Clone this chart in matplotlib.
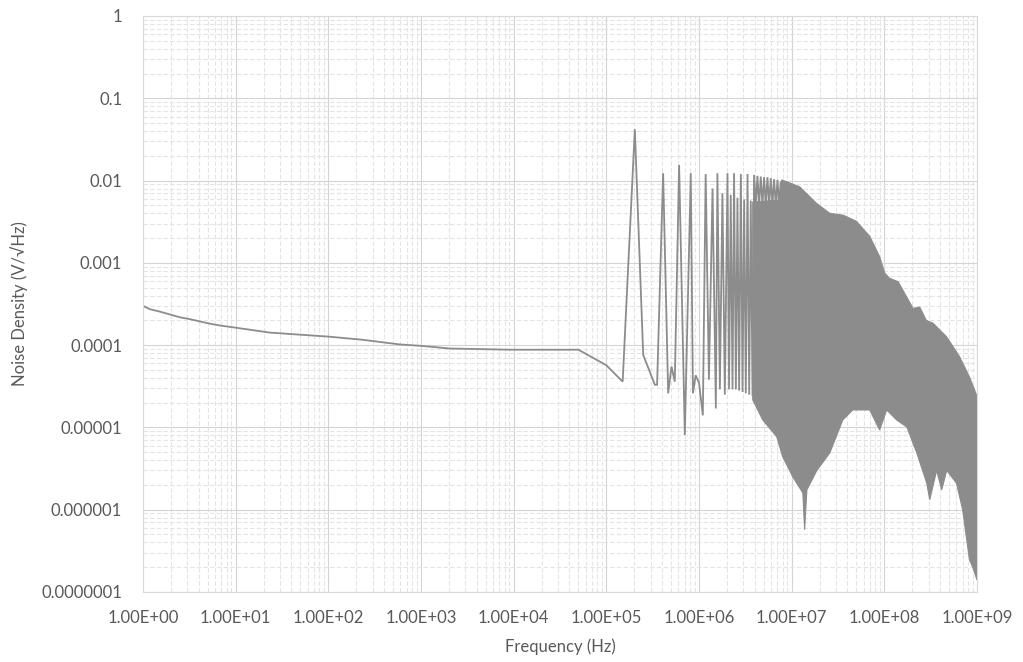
import numpy as np
import matplotlib
matplotlib.use('Agg')
import matplotlib.pyplot as plt

plt.rcParams['font.family'] = ['Lato', 'DejaVu Sans']

# low frequency part of the trace (Hz, V/rtHz)
f_low = [1, 1.19, 1.53, 2.5, 3.2, 5.3, 6.8, 10, 23.5, 100, 238, 590, 1000, 2050, 9100,
         5.0e4, 1.0e5, 1.5e5]
v_low = [3.0e-4, 2.73e-4, 2.55e-4, 2.18e-4, 2.07e-4, 1.82e-4, 1.73e-4, 1.63e-4, 1.42e-4,
         1.27e-4, 1.16e-4, 1.02e-4, 9.8e-5, 9.1e-5, 8.8e-5, 8.8e-5, 5.7e-5, 3.6e-5]

# resonance spikes (peak / trough pairs)
f_spk = [2.03e5, 2.5e5, 3.34e5, 3.53e5, 4.1e5, 4.65e5, 5.05e5, 5.48e5, 6.1e5, 7.03e5,
         8.15e5, 8.6e5, 9.2e5, 1.0e6, 1.1e6, 1.18e6, 1.28e6, 1.4e6, 1.52e6, 1.58e6,
         1.68e6, 1.79e6, 1.9e6, 2.03e6, 2.11e6, 2.2e6, 2.3e6, 2.39e6, 2.5e6, 2.6e6,
         2.71e6, 2.83e6, 2.95e6, 3.07e6, 3.2e6, 3.34e6, 3.48e6, 3.62e6, 3.78e6,
         3.93e6, 4.1e6, 4.27e6, 4.45e6, 4.64e6, 4.84e6, 5.04e6, 5.26e6, 5.48e6, 5.71e6,
         5.95e6, 6.2e6, 6.46e6, 6.74e6, 7.03e6, 7.32e6, 7.62e6, 7.7e6]
v_spk = [0.042, 7.6e-5, 3.3e-5, 3.3e-5, 0.0123, 2.6e-5, 5.5e-5, 3.6e-5, 0.0155, 8.1e-6,
         0.0123, 2.6e-5, 4.3e-5, 3.5e-5, 1.4e-5, 0.012, 3.8e-5, 0.008, 1.7e-5, 0.0123,
         2.9e-5, 0.007, 2.5e-5, 0.0123, 2.9e-5, 0.0067, 2.9e-5, 0.0123, 2.9e-5, 0.0062,
         2.8e-5, 0.012, 2.7e-5, 0.0059, 2.6e-5, 0.012, 2.5e-5, 0.0057, 2.4e-5,
         0.0117, 0.005, 0.0114, 0.005, 0.0112, 0.005, 0.011, 0.005, 0.011, 0.005,
         0.0107, 0.005, 0.0104, 0.005, 0.0102, 0.005, 0.0097, 0.005]

# dense high frequency band: upper and lower envelopes
f_up = [3.8e6, 7.6e6, 7.8e6, 1.22e7, 1.85e7, 2.58e7, 3.59e7, 5.0e7, 6.96e7, 8.9e7,
        1.01e8, 1.14e8, 1.41e8, 1.73e8, 2.04e8, 2.41e8, 2.84e8, 3.35e8, 3.96e8,
        4.68e8, 5.51e8, 6.5e8, 8.3e8, 1.0e9]
v_up = [5.5e-3, 5.8e-3, 1.02e-2, 8.4e-3, 5.3e-3, 4.0e-3, 3.8e-3, 3.2e-3, 2.1e-3, 1.19e-3,
        7.5e-4, 6.5e-4, 5.9e-4, 3.9e-4, 2.8e-4, 2.9e-4, 2.0e-4, 1.85e-4, 1.53e-4,
        1.27e-4, 9.6e-5, 7.2e-5, 4.1e-5, 2.4e-5]
f_lo = [3.8e6, 4.88e6, 6.9e6, 8.0e6, 1.03e7, 1.32e7, 1.38e7, 1.46e7, 1.87e7, 2.58e7,
        3.56e7, 4.56e7, 6.96e7, 8.9e7, 1.06e8, 1.36e8, 1.75e8, 2.24e8, 2.87e8, 3.09e8,
        3.67e8, 4.16e8, 4.71e8, 6.0e8, 7.0e8, 8.3e8, 9.0e8, 1.0e9]
v_lo = [2.16e-5, 1.23e-5, 7.7e-6, 4.4e-6, 2.5e-6, 1.6e-6, 5.7e-7, 1.74e-6, 3.0e-6, 4.9e-6,
        1.23e-5, 1.63e-5, 1.63e-5, 9.3e-6, 1.63e-5, 1.23e-5, 1.01e-5, 4.9e-6, 2.1e-6, 1.32e-6,
        3.0e-6, 1.74e-6, 3.0e-6, 2.1e-6, 1.0e-6, 2.45e-7, 2.0e-7, 1.4e-7]

xticks = [1e0, 1e1, 1e2, 1e3, 1e4, 1e5, 1e6, 1e7, 1e8, 1e9]
xtick_labels = ['1.00E+00', '1.00E+01', '1.00E+02', '1.00E+03', '1.00E+04',
                '1.00E+05', '1.00E+06', '1.00E+07', '1.00E+08', '1.00E+09']
yticks = [1e-7, 1e-6, 1e-5, 1e-4, 1e-3, 1e-2, 1e-1, 1]
ytick_labels = ['0.0000001', '0.000001', '0.00001', '0.0001', '0.001', '0.01', '0.1', '1']

col = '#8c8c8c'
txt = '#595959'

fig = plt.figure(figsize=(10.23, 6.62), dpi=100)
ax = fig.add_axes([143/1023, 1-592/662, 834/1023, 576/662])

ax.plot(f_low + f_spk, v_low + v_spk, color=col, lw=1.3, solid_joinstyle='miter')
ax.fill(f_up + f_lo[::-1], v_up + v_lo[::-1], color=col, lw=0.8, ec=col)

ax.set_xscale('log')
ax.set_yscale('log')
ax.set_xlim(1, 1e9)
ax.set_ylim(1e-7, 1)
ax.set_xticks(xticks, xtick_labels)
ax.set_yticks(yticks, ytick_labels)
ax.xaxis.set_minor_locator(matplotlib.ticker.LogLocator(base=10, subs=np.arange(2, 10), numticks=20))
ax.yaxis.set_minor_locator(matplotlib.ticker.LogLocator(base=10, subs=np.arange(2, 10), numticks=20))
ax.xaxis.set_minor_formatter(matplotlib.ticker.NullFormatter())
ax.yaxis.set_minor_formatter(matplotlib.ticker.NullFormatter())

ax.grid(which='major', color='#d4d4d4', lw=0.8)
ax.grid(which='minor', color='#e4e4e4', lw=0.8, ls=(0, (4, 2)))
ax.set_axisbelow(True)
for s in ax.spines.values():
    s.set_color('#d9d9d9')
    s.set_linewidth(0.8)

ax.tick_params(which='both', length=0, labelsize=12, colors=txt)
ax.tick_params(axis='x', pad=13)
ax.tick_params(axis='y', pad=15)

ax.set_xlabel('Frequency (Hz)', fontsize=12, color=txt)
ax.set_ylabel('Noise Density (V/\u221aHz)', fontsize=12, color=txt)
ax.xaxis.set_label_coords(0.5, -0.08)
ax.yaxis.set_label_coords(-0.138, 0.5)

fig.savefig('out.png', dpi=100)
